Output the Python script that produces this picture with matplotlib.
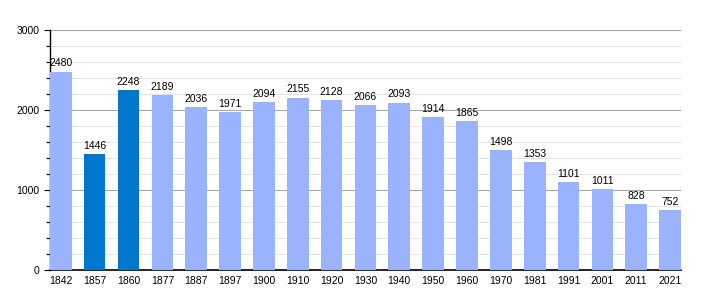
import numpy as np
import matplotlib.pyplot as plt
from matplotlib.ticker import MultipleLocator

years = ['1842', '1857', '1860', '1877', '1887', '1897', '1900', '1910', '1920', '1930',
         '1940', '1950', '1960', '1970', '1981', '1991', '2001', '2011', '2021']
population = [2480, 1446, 2248, 2189, 2036, 1971, 2094, 2155, 2128, 2066,
              2093, 1914, 1865, 1498, 1353, 1101, 1011, 828, 752]
highlight = ['1857', '1860']

plt.rcParams['font.family'] = ['Liberation Sans', 'DejaVu Sans']
fig = plt.figure(figsize=(7.1, 3.0), dpi=100)
ax = fig.add_axes([0.0704, 0.1, 0.8886, 0.8])

x = np.arange(len(years))
colors = ['#0077cc' if y in highlight else '#99b3ff' for y in years]
ax.bar(x, population, width=0.64, color=colors, zorder=3)
for xi, v in zip(x, population):
    ax.text(xi, v + 40, str(v), ha='center', va='bottom', fontsize=7.5, zorder=4)

ax.set_xlim(-0.32, len(years) - 1 + 0.32)
ax.set_ylim(0, 3000)
ax.set_xticks(x)
ax.set_xticklabels(years, fontsize=7.5)
ax.yaxis.set_major_locator(MultipleLocator(1000))
ax.yaxis.set_minor_locator(MultipleLocator(200))
ax.tick_params(axis='y', labelsize=7.5, length=4, width=0.8)
ax.tick_params(axis='y', which='minor', length=3, width=0.8)
ax.tick_params(axis='x', length=0, pad=4)
ax.grid(axis='y', which='major', color='#a8a8a8', linewidth=0.8, zorder=0)
ax.grid(axis='y', which='minor', color='#e4e4e4', linewidth=0.8, zorder=0)
for s in ['top', 'right']:
    ax.spines[s].set_visible(False)
ax.spines['left'].set_linewidth(1)
ax.spines['bottom'].set_linewidth(1.2)

fig.savefig('out.png', dpi=100)
